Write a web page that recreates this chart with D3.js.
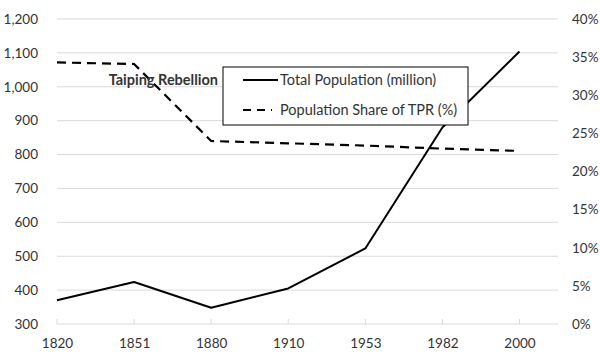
<!DOCTYPE html>
<html><head><meta charset="utf-8">
<script src="https://cdn.jsdelivr.net/npm/d3@7"></script>
<style>body{margin:0;background:#fff}svg{display:block}text{font-family:Lato,"Open Sans",sans-serif;fill:#333}</style>
</head><body><svg id="c" width="600" height="355"></svg>
<script>
const categories = ["1820","1851","1880","1910","1953","1982","2000"];
const totalPopulation = [370, 424, 348, 405, 523, 880, 1104];
const tprShare = [34.3, 34.1, 24.0, 23.7, 23.4, 23.0, 22.7];
const leftTicks = [300,400,500,600,700,800,900,1000,1100,1200];
const rightTicks = [0,5,10,15,20,25,30,35,40];
const seriesNames = ["Total Population (million)", "Population Share of TPR (%)"];
const annotation = "Taiping Rebellion";

const svg = d3.select("#c");
const L = 57, R = 558, T = 19, B = 324;
const x = d3.scaleLinear().domain([0, categories.length - 0.5]).range([L, R]);
const yL = d3.scaleLinear().domain([300, 1200]).range([B, T]);
const yR = d3.scaleLinear().domain([0, 40]).range([B, T]);

// gridlines
svg.append("g").selectAll("line").data(leftTicks.slice(1)).join("line")
  .attr("x1", L).attr("x2", R).attr("y1", d => yL(d)).attr("y2", d => yL(d))
  .attr("stroke", "#d9d9d9").attr("stroke-width", 1);

// bottom axis
const xa = d3.axisBottom(x).tickValues(d3.range(categories.length)).tickFormat(i => categories[i]).tickSize(0).tickPadding(14);
const gx = svg.append("g").attr("transform", `translate(0,${B})`).call(xa);
gx.select(".domain").attr("stroke", "#d9d9d9").attr("d", `M${L},0H${R}`);
gx.selectAll("text").style("font-size", "13.5px").attr("fill", "#333");
svg.append("g").selectAll("line").data(d3.range(categories.length)).join("line")
  .attr("x1", d => x(d)).attr("x2", d => x(d)).attr("y1", B - 5).attr("y2", B)
  .attr("stroke", "#d9d9d9");

// left axis
const gl = svg.append("g").attr("transform", `translate(${L},0)`)
  .call(d3.axisLeft(yL).tickValues(leftTicks).tickFormat(d3.format(",")).tickSize(0).tickPadding(19));
gl.select(".domain").remove();
gl.selectAll("text").style("font-size", "13.5px").attr("fill", "#333");

// right axis
const gr = svg.append("g").attr("transform", `translate(${R},0)`)
  .call(d3.axisRight(yR).tickValues(rightTicks).tickFormat(d => d + "%").tickSize(0).tickPadding(14));
gr.select(".domain").remove();
gr.selectAll("text").style("font-size", "13.5px").attr("fill", "#333");

// lines
svg.append("path").datum(totalPopulation)
  .attr("d", d3.line().x((d, i) => x(i)).y(d => yL(d)))
  .attr("fill", "none").attr("stroke", "#000").attr("stroke-width", 2).attr("stroke-linejoin", "round");
svg.append("path").datum(tprShare)
  .attr("d", d3.line().x((d, i) => x(i)).y(d => yR(d)))
  .attr("fill", "none").attr("stroke", "#000").attr("stroke-width", 2.2).attr("stroke-dasharray", "9,6");

// annotation
svg.append("text").attr("x", 218).attr("y", 85).attr("text-anchor", "end")
  .style("font-size", "14.5px").style("font-weight", "bold").attr("fill", "#222").text(annotation);

// legend
const lg = svg.append("g");
lg.append("rect").attr("x", 223).attr("y", 67).attr("width", 245).attr("height", 58)
  .attr("fill", "#fff").attr("stroke", "#000").attr("stroke-width", 1);
lg.append("line").attr("x1", 243).attr("x2", 278).attr("y1", 80).attr("y2", 80).attr("stroke", "#000").attr("stroke-width", 2);
lg.append("line").attr("x1", 243).attr("x2", 272).attr("y1", 110).attr("y2", 110).attr("stroke", "#000").attr("stroke-width", 2.2).attr("stroke-dasharray", "8,6");
lg.selectAll("text").data(seriesNames).join("text")
  .attr("x", 280).attr("y", (d, i) => 80 + i * 30).attr("dy", "0.35em")
  .style("font-size", "14.5px").attr("fill", "#222").text(d => d);
</script></body></html>
